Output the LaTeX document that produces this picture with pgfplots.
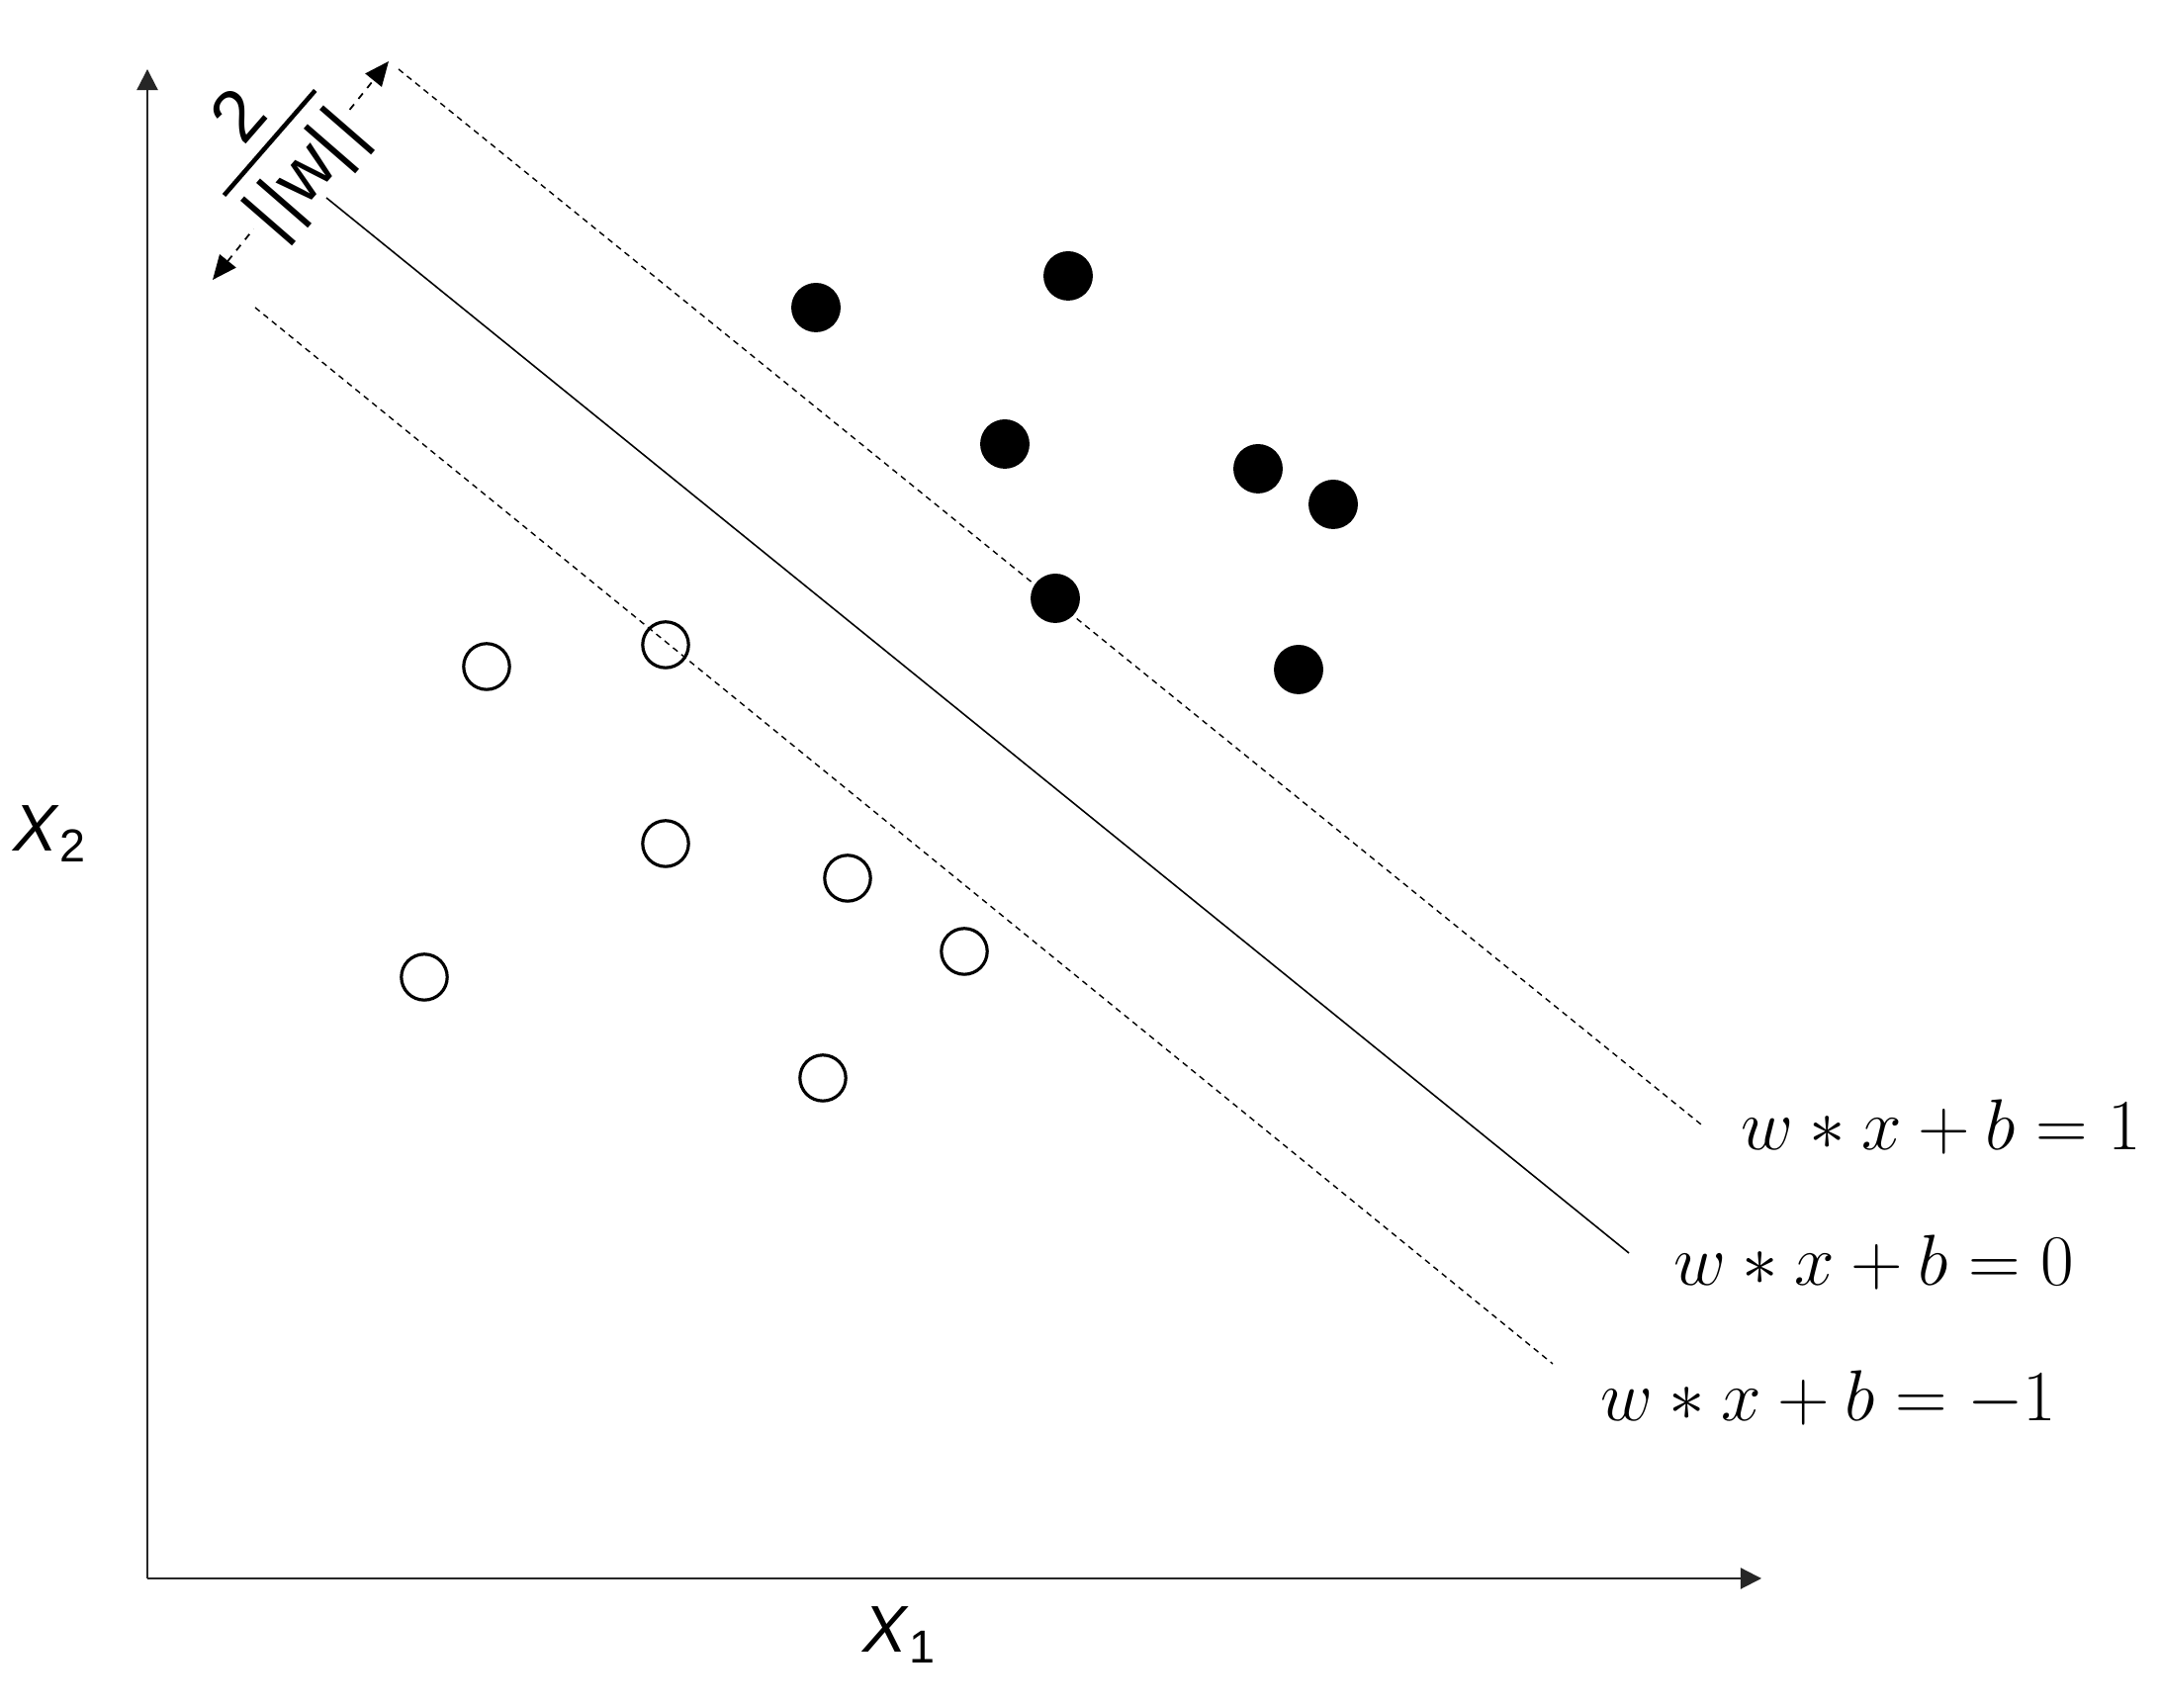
\documentclass[border=0pt]{standalone}
\usepackage[no-math]{fontspec}
\newfontfamily\lab{Liberation Sans}
\usepackage{pgfplots}
\pgfplotsset{compat=1.18}
\usetikzlibrary{arrows.meta}

\begin{document}
\begin{tikzpicture}
\begin{axis}[
    width=218.5mm, height=172.7mm, scale only axis,
    xmin=0, xmax=2185, ymin=0, ymax=1727,
    hide axis, clip=false,
]
% axes
\draw[black!85, line width=0.6pt, -{Triangle[length=6pt,width=6pt]}]
    (axis cs:149,131) -- (axis cs:1781,131);
\draw[black!85, line width=0.6pt, -{Triangle[length=6pt,width=6pt]}]
    (axis cs:149,131) -- (axis cs:149,1657);
\node[font=\lab\fontsize{19}{23}\selectfont] at (axis cs:910,74) {\textit{X}\textsubscript{1}};
\node[font=\lab\fontsize{19}{23}\selectfont] at (axis cs:51,884) {\textit{X}\textsubscript{2}};

% margin width
\draw[line width=0.5pt, dash pattern=on 2pt off 2pt,
      {Triangle[length=7pt,width=6pt]}-{Triangle[length=7pt,width=6pt]}]
    (axis cs:215,1444) -- (axis cs:393,1665);
\node[fill=white, rotate=49, inner sep=0.5pt, font=\lab\fontsize{21}{25}\selectfont]
    at (axis cs:279,1577)
    {${\mbox{\rule[-3pt]{0pt}{3pt}2}\above 1.3pt \mbox{\rule{0pt}{18pt}|\kern1.5pt|w|\kern1.5pt|}}$};

% hyperplanes
\addplot[black, line width=0.45pt] coordinates {(330,1527) (1647,460)};
\addplot[black, line width=0.4pt, dash pattern=on 1.7pt off 1.4pt] coordinates {(403,1657) (1720,590)};
\addplot[black, line width=0.4pt, dash pattern=on 1.7pt off 1.4pt] coordinates {(258,1416) (1570,348)};

% classes
\addplot[only marks, mark=*, mark size=6.9pt, black] coordinates {
    (825,1416) (1080,1448) (1016,1278) (1272,1253)
    (1348,1217) (1067,1122) (1313,1050)
};
\addplot[only marks, mark=o, mark size=6.6pt, black,
         mark options={line width=0.9pt, fill=white}] coordinates {
    (492,1053) (673,1075) (673,874) (857,839)
    (975,765) (429,739) (832,637)
};

% labels
\node[anchor=base west, inner sep=0pt, font=\fontsize{20}{24}\selectfont]
    at (axis cs:1760,564) {$w * x + b = 1$};
\node[anchor=base west, inner sep=0pt, font=\fontsize{20}{24}\selectfont]
    at (axis cs:1692,427) {$w * x + b = 0$};
\node[anchor=base west, inner sep=0pt, font=\fontsize{20}{24}\selectfont]
    at (axis cs:1618,290) {$w * x + b = -1$};
\end{axis}
\pgfresetboundingbox
\path (current axis.south west) rectangle (current axis.north east);
\end{tikzpicture}
\end{document}
